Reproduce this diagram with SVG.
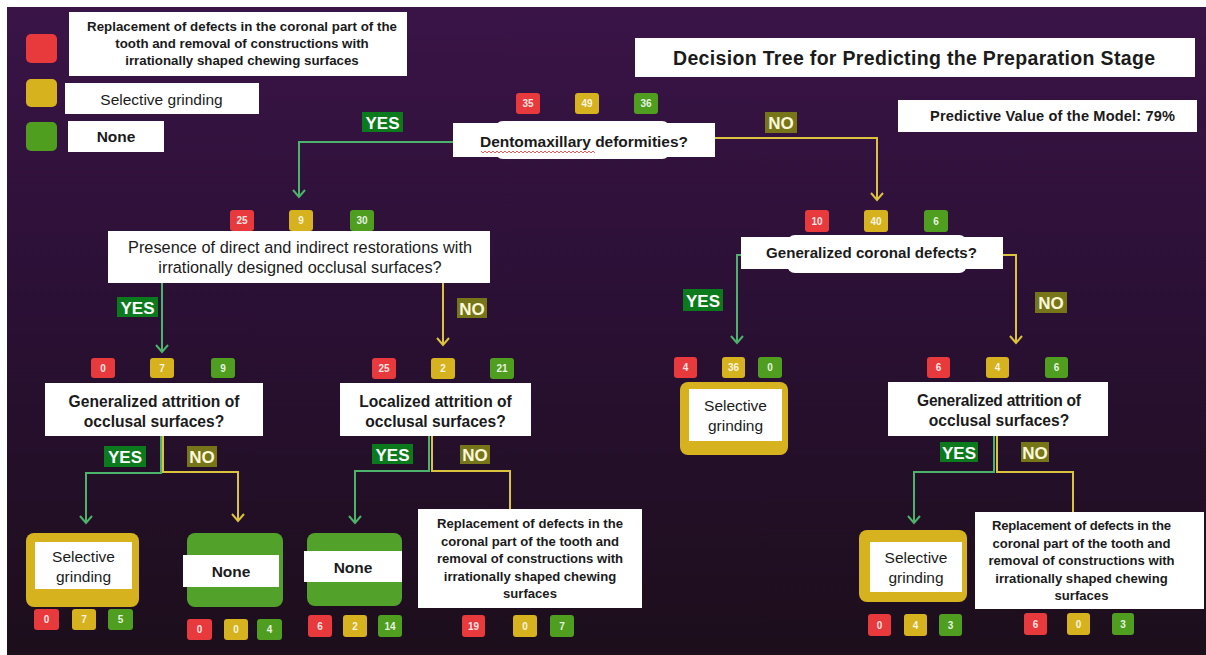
<svg xmlns="http://www.w3.org/2000/svg" width="1206" height="655" viewBox="0 0 1206 655">
<defs>
<linearGradient id="bg" x1="0" y1="0" x2="0" y2="1">
<stop offset="0" stop-color="#3a1447"/>
<stop offset="0.45" stop-color="#2b1035"/>
<stop offset="1" stop-color="#1c0e1b"/>
</linearGradient>
<marker id="ag" markerUnits="userSpaceOnUse" markerWidth="14" markerHeight="14" viewBox="0 0 14 14" refX="12" refY="7" orient="auto">
<path d="M5,1 L12,7 L5,13" fill="none" stroke="#4cb36a" stroke-width="2"/>
</marker>
<marker id="ay" markerUnits="userSpaceOnUse" markerWidth="14" markerHeight="14" viewBox="0 0 14 14" refX="12" refY="7" orient="auto">
<path d="M5,1 L12,7 L5,13" fill="none" stroke="#dcc33e" stroke-width="2"/>
</marker>
</defs>
<style>
text{font-family:"Liberation Sans",Arial,sans-serif;fill:#1b1b1b}
.b{font-weight:bold}
.c{text-anchor:middle}
.box{fill:#ffffff}
.r{fill:#e83a3d}
.y{fill:#d6b21f}
.g{fill:#4f9e20}
.bt{font-size:10px;font-weight:bold;fill:#ffffff;fill-opacity:0.88;text-anchor:middle}
.yes{fill:#0b7a1c}
.no{fill:#77751a}
.yt{font-size:17px;font-weight:bold;fill:#ffffff;text-anchor:middle}
.nt{font-size:17px;font-weight:bold;fill:#fdf8d8;text-anchor:middle}
.lg{fill:none;stroke:#4cb36a;stroke-width:2}
.ly{fill:none;stroke:#dcc33e;stroke-width:2}
.yl{fill:#d6b21f}
.gl{fill:#52a12a}
</style>
<rect x="0" y="0" width="1206" height="655" fill="#ffffff"/>
<rect x="7" y="7" width="1199" height="648" fill="url(#bg)"/>

<g id="legend">
<rect class="r" x="26" y="34" width="31" height="29" rx="5"/>
<rect class="y" x="26" y="79" width="31" height="28" rx="5"/>
<rect class="g" x="26" y="122" width="31" height="29" rx="5"/>
<rect class="box" x="69" y="12" width="338" height="64"/>
<text class="b c" x="242" y="31" font-size="13.3" textLength="310">Replacement of defects in the coronal part of the</text>
<text class="b c" x="242" y="48" font-size="13.3">tooth and removal of constructions with</text>
<text class="b c" x="242" y="65" font-size="13.3">irrationally shaped chewing surfaces</text>
<rect class="box" x="65" y="83" width="194" height="31"/>
<text class="c" x="161.5" y="105" font-size="15.5">Selective grinding</text>
<rect class="box" x="68" y="121" width="96" height="31"/>
<text class="b c" x="116" y="142" font-size="15.5">None</text>
</g>

<g id="title">
<rect class="box" x="635" y="38" width="560" height="39"/>
<text class="b c" x="914" y="65" font-size="19.5" textLength="482">Decision Tree for Predicting the Preparation Stage</text>
</g>

<g id="predictive-value">
<rect class="box" x="898" y="100" width="299" height="32"/>
<text class="b c" x="1052.5" y="121" font-size="14.6" textLength="245">Predictive Value of the Model: 79%</text>
</g>

<g id="connectors">
<path class="lg" d="M453,142 H299 V197" marker-end="url(#ag)"/>
<path class="ly" d="M715,138 H877 V200" marker-end="url(#ay)"/>
<path class="lg" d="M162,283 V352" marker-end="url(#ag)"/>
<path class="ly" d="M443,283 V345" marker-end="url(#ay)"/>
<path class="lg" d="M743,255 H737 V343" marker-end="url(#ag)"/>
<path class="ly" d="M1001,255 H1016 V343" marker-end="url(#ay)"/>
<path class="lg" d="M161,436 V473 H86 V523" marker-end="url(#ag)"/>
<path class="ly" d="M163,436 V472 H238 V521" marker-end="url(#ay)"/>
<path class="lg" d="M429,436 V471 H355 V523" marker-end="url(#ag)"/>
<path class="ly" d="M432,436 V471 H510 V510"/>
<path class="lg" d="M994,436 V472 H914 V523" marker-end="url(#ag)"/>
<path class="ly" d="M997,436 V472 H1073 V512"/>
</g>

<g id="labels">
<rect class="yes" x="362" y="112" width="41" height="20"/>
<text class="yt" x="382.5" y="128.5">YES</text>
<rect class="no" x="765" y="112" width="32" height="21"/>
<text class="nt" x="781" y="129">NO</text>
<rect class="yes" x="117" y="297" width="41" height="20"/>
<text class="yt" x="137.5" y="313.5">YES</text>
<rect class="no" x="457" y="298" width="30" height="20"/>
<text class="nt" x="472" y="314.5">NO</text>
<rect class="yes" x="683" y="289" width="40" height="22"/>
<text class="yt" x="703" y="306.5">YES</text>
<rect class="no" x="1035" y="292" width="32" height="21"/>
<text class="nt" x="1051" y="309">NO</text>
<rect class="yes" x="104" y="446" width="42" height="21"/>
<text class="yt" x="125" y="463">YES</text>
<rect class="no" x="187" y="446" width="30" height="21"/>
<text class="nt" x="202" y="463">NO</text>
<rect class="yes" x="372" y="444" width="41" height="20"/>
<text class="yt" x="392.5" y="460.5">YES</text>
<rect class="no" x="460" y="445" width="30" height="19"/>
<text class="nt" x="475" y="461">NO</text>
<rect class="yes" x="940" y="442" width="38" height="20"/>
<text class="yt" x="959" y="458.5">YES</text>
<rect class="no" x="1021" y="442" width="28" height="20"/>
<text class="nt" x="1035" y="458.5">NO</text>
</g>

<g id="node-root">
<rect class="r" x="516" y="93" width="24" height="21" rx="3"/><text class="bt" x="528" y="107">35</text>
<rect class="y" x="575" y="93" width="24" height="21" rx="3"/><text class="bt" x="587" y="107">49</text>
<rect class="g" x="634" y="93" width="24" height="21" rx="3"/><text class="bt" x="646" y="107">36</text>
<rect class="box" x="495" y="121" width="175" height="38" rx="8"/>
<rect class="box" x="453" y="123" width="262" height="34"/>
<text class="b c" x="584" y="147" font-size="15.5" textLength="208">Dentomaxillary deformities?</text>
<path d="M481,151 l2,2 l2,-2 l2,2 l2,-2 l2,2 l2,-2 l2,2 l2,-2 l2,2 l2,-2 l2,2 l2,-2 l2,2 l2,-2 l2,2 l2,-2 l2,2 l2,-2 l2,2 l2,-2 l2,2 l2,-2 l2,2 l2,-2 l2,2 l2,-2 l2,2 l2,-2 l2,2 l2,-2 l2,2 l2,-2 l2,2 l2,-2 l2,2 l2,-2 l2,2 l2,-2 l2,2 l2,-2 l2,2 l2,-2 l2,2 l2,-2 l2,2 l2,-2 l2,2 l2,-2 l2,2 l2,-2 l2,2 l2,-2 l2,2 l2,-2 l2,2 l2,-2 l2,2" fill="none" stroke="#e03030" stroke-width="0.8"/>
</g>

<g id="node-restorations">
<rect class="r" x="230" y="210" width="24" height="21" rx="3"/><text class="bt" x="242" y="224">25</text>
<rect class="y" x="289" y="210" width="24" height="21" rx="3"/><text class="bt" x="301" y="224">9</text>
<rect class="g" x="350" y="210" width="24" height="21" rx="3"/><text class="bt" x="362" y="224">30</text>
<rect class="box" x="108" y="231" width="382" height="52"/>
<text class="c" x="300" y="253" font-size="16.3" textLength="344">Presence of direct and indirect restorations with</text>
<text class="c" x="300" y="273" font-size="16.3">irrationally designed occlusal surfaces?</text>
</g>

<g id="node-coronal">
<rect class="r" x="805" y="210" width="24" height="22" rx="3"/><text class="bt" x="817" y="224.5">10</text>
<rect class="y" x="864" y="210" width="24" height="22" rx="3"/><text class="bt" x="876" y="224.5">40</text>
<rect class="g" x="924" y="210" width="24" height="22" rx="3"/><text class="bt" x="936" y="224.5">6</text>
<rect class="box" x="787" y="235" width="180" height="38" rx="8"/>
<rect class="box" x="741" y="237" width="262" height="32"/>
<text class="b c" x="871.5" y="258" font-size="15.1" textLength="211">Generalized coronal defects?</text>
</g>

<g id="node-gen-attrition-left">
<rect class="r" x="91" y="358" width="24" height="20" rx="3"/><text class="bt" x="103" y="371.5">0</text>
<rect class="y" x="150" y="358" width="24" height="20" rx="3"/><text class="bt" x="162" y="371.5">7</text>
<rect class="g" x="211" y="358" width="24" height="20" rx="3"/><text class="bt" x="223" y="371.5">9</text>
<rect class="box" x="45" y="383" width="218" height="53"/>
<text class="b c" x="154" y="407" font-size="15.6" textLength="171">Generalized attrition of</text>
<text class="b c" x="154" y="427" font-size="15.6">occlusal surfaces?</text>
</g>

<g id="node-loc-attrition">
<rect class="r" x="372" y="358" width="24" height="21" rx="3"/><text class="bt" x="384" y="372">25</text>
<rect class="y" x="431" y="358" width="24" height="21" rx="3"/><text class="bt" x="443" y="372">2</text>
<rect class="g" x="490" y="358" width="24" height="21" rx="3"/><text class="bt" x="502" y="372">21</text>
<rect class="box" x="340" y="383" width="191" height="53"/>
<text class="b c" x="435.5" y="407" font-size="15.6">Localized attrition of</text>
<text class="b c" x="435.5" y="427" font-size="15.6">occlusal surfaces?</text>
</g>

<g id="leaf-selective-right">
<rect class="r" x="674" y="357" width="23" height="21" rx="3"/><text class="bt" x="685.5" y="371">4</text>
<rect class="y" x="722" y="357" width="23" height="21" rx="3"/><text class="bt" x="733.5" y="371">36</text>
<rect class="g" x="758" y="357" width="24" height="21" rx="3"/><text class="bt" x="770" y="371">0</text>
<rect class="yl" x="680" y="382" width="108" height="73" rx="8"/>
<rect class="box" x="689" y="389" width="93" height="52"/>
<text class="c" x="735.5" y="411" font-size="15.5">Selective</text>
<text class="c" x="735.5" y="431" font-size="15.5">grinding</text>
</g>

<g id="node-gen-attrition-right">
<rect class="r" x="927" y="357" width="23" height="21" rx="3"/><text class="bt" x="938.5" y="371">6</text>
<rect class="y" x="986" y="357" width="23" height="21" rx="3"/><text class="bt" x="997.5" y="371">4</text>
<rect class="g" x="1045" y="357" width="23" height="21" rx="3"/><text class="bt" x="1056.5" y="371">6</text>
<rect class="box" x="888" y="382" width="220" height="54"/>
<text class="b c" x="999" y="406" font-size="15.6" textLength="164">Generalized attrition of</text>
<text class="b c" x="999" y="426" font-size="15.6">occlusal surfaces?</text>
</g>

<g id="leaf-selective-ll">
<rect class="yl" x="26" y="533" width="113" height="74" rx="8"/>
<rect class="box" x="35" y="542" width="97" height="47"/>
<text class="c" x="83.5" y="562" font-size="15.5">Selective</text>
<text class="c" x="83.5" y="582" font-size="15.5">grinding</text>
<rect class="r" x="34" y="609" width="25" height="21" rx="3"/><text class="bt" x="46.5" y="623">0</text>
<rect class="y" x="72" y="609" width="24" height="21" rx="3"/><text class="bt" x="84" y="623">7</text>
<rect class="g" x="108" y="609" width="25" height="21" rx="3"/><text class="bt" x="120.5" y="623">5</text>
</g>

<g id="leaf-none-ll">
<rect class="gl" x="187" y="533" width="96" height="74" rx="8"/>
<rect class="box" x="183" y="555" width="96" height="32"/>
<text class="b c" x="231" y="577" font-size="15.5">None</text>
<rect class="r" x="187" y="619" width="25" height="21" rx="3"/><text class="bt" x="199.5" y="633">0</text>
<rect class="y" x="224" y="619" width="24" height="21" rx="3"/><text class="bt" x="236" y="633">0</text>
<rect class="g" x="257" y="619" width="25" height="21" rx="3"/><text class="bt" x="269.5" y="633">4</text>
</g>

<g id="leaf-none-lr">
<rect class="gl" x="307" y="533" width="95" height="73" rx="8"/>
<rect class="box" x="304" y="551" width="98" height="31"/>
<text class="b c" x="353" y="573" font-size="15.5">None</text>
<rect class="r" x="308" y="615" width="24" height="22" rx="3"/><text class="bt" x="320" y="629.5">6</text>
<rect class="y" x="343" y="615" width="24" height="22" rx="3"/><text class="bt" x="355" y="629.5">2</text>
<rect class="g" x="378" y="615" width="24" height="22" rx="3"/><text class="bt" x="390" y="629.5">14</text>
</g>

<g id="leaf-replacement-lr">
<rect class="box" x="418" y="509" width="224" height="99"/>
<text class="b c" x="530" y="528" font-size="13.1" textLength="186">Replacement of defects in the</text>
<text class="b c" x="530" y="545.5" font-size="13.1">coronal part of the tooth and</text>
<text class="b c" x="530" y="563" font-size="13.1">removal of constructions with</text>
<text class="b c" x="530" y="580.5" font-size="13.1">irrationally shaped chewing</text>
<text class="b c" x="530" y="598" font-size="13.1">surfaces</text>
<rect class="r" x="462" y="615" width="23" height="22" rx="3"/><text class="bt" x="473.5" y="629.5">19</text>
<rect class="y" x="513" y="615" width="24" height="22" rx="3"/><text class="bt" x="525" y="629.5">0</text>
<rect class="g" x="550" y="615" width="24" height="22" rx="3"/><text class="bt" x="562" y="629.5">7</text>
</g>

<g id="leaf-selective-rr">
<rect class="yl" x="859" y="530" width="108" height="72" rx="8"/>
<rect class="box" x="870" y="542" width="92" height="50"/>
<text class="c" x="916" y="563" font-size="15.5">Selective</text>
<text class="c" x="916" y="583" font-size="15.5">grinding</text>
<rect class="r" x="868" y="614" width="23" height="22" rx="3"/><text class="bt" x="879.5" y="628.5">0</text>
<rect class="y" x="904" y="614" width="23" height="22" rx="3"/><text class="bt" x="915.5" y="628.5">4</text>
<rect class="g" x="939" y="614" width="23" height="22" rx="3"/><text class="bt" x="950.5" y="628.5">3</text>
</g>

<g id="leaf-replacement-rr">
<rect class="box" x="975" y="512" width="229" height="97"/>
<text class="b c" x="1081.5" y="530" font-size="13.1" textLength="179">Replacement of defects in the</text>
<text class="b c" x="1081.5" y="547.5" font-size="13.1">coronal part of the tooth and</text>
<text class="b c" x="1081.5" y="565" font-size="13.1">removal of constructions with</text>
<text class="b c" x="1081.5" y="582.5" font-size="13.1">irrationally shaped chewing</text>
<text class="b c" x="1081.5" y="600" font-size="13.1">surfaces</text>
<rect class="r" x="1024" y="613" width="23" height="22" rx="3"/><text class="bt" x="1035.5" y="627.5">6</text>
<rect class="y" x="1067" y="613" width="23" height="22" rx="3"/><text class="bt" x="1078.5" y="627.5">0</text>
<rect class="g" x="1112" y="613" width="22" height="22" rx="3"/><text class="bt" x="1123" y="627.5">3</text>
</g>
</svg>
